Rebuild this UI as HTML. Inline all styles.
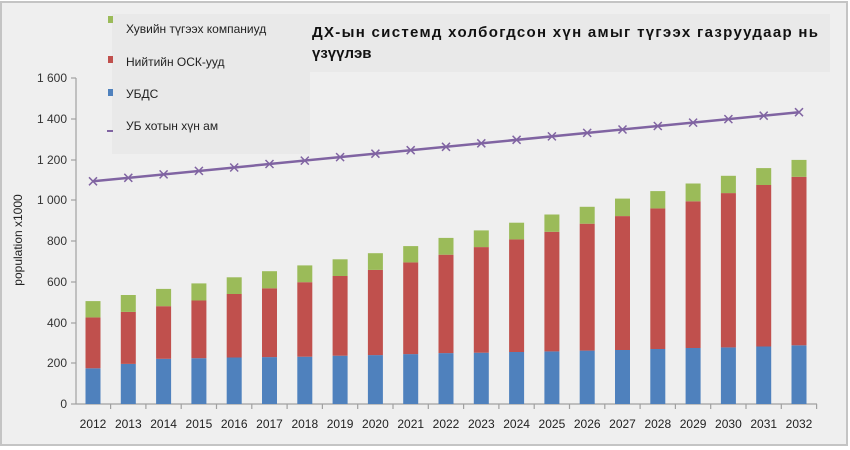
<!DOCTYPE html>
<html><head><meta charset="utf-8"><style>
html,body{margin:0;padding:0;background:#fff;}
svg{display:block;font-family:"Liberation Sans","DejaVu Sans",sans-serif;}
</style></head><body>
<svg width="850" height="450" viewBox="0 0 850 450" xmlns="http://www.w3.org/2000/svg">
<rect x="0" y="0" width="850" height="450" fill="#ffffff"/>
<rect x="1" y="2" width="846" height="443" fill="#efefef" stroke="#c4c4c4" stroke-width="2"/>
<rect x="112" y="14" width="198" height="140" fill="#e9e9e9"/>
<rect x="310" y="14" width="520" height="58" fill="#e9e9e9"/>
<defs><path id="mk" d="M-4,-4L4,4M-4,4L4,-4" stroke="#8064a2" stroke-width="1.5"/></defs>
<!-- axes -->
<g stroke="#a0a0a0" stroke-width="1.2">
<line x1="76" y1="78" x2="76" y2="404"/>
<line x1="76" y1="404" x2="817" y2="404"/>
<line x1="71" y1="78" x2="76" y2="78"/><line x1="71" y1="119" x2="76" y2="119"/><line x1="71" y1="160" x2="76" y2="160"/><line x1="71" y1="200" x2="76" y2="200"/><line x1="71" y1="241" x2="76" y2="241"/><line x1="71" y1="282" x2="76" y2="282"/><line x1="71" y1="323" x2="76" y2="323"/><line x1="71" y1="363" x2="76" y2="363"/><line x1="71" y1="404" x2="76" y2="404"/>
</g>
<g fill="#333" font-size="12" text-anchor="end">
<text x="67" y="82">1 600</text><text x="67" y="123">1 400</text><text x="67" y="164">1 200</text><text x="67" y="204">1 000</text><text x="67" y="245">800</text><text x="67" y="286">600</text><text x="67" y="327">400</text><text x="67" y="367">200</text><text x="67" y="408">0</text>
</g>
<text transform="translate(22,240) rotate(-90)" font-size="12" fill="#222" text-anchor="middle">population x1000</text>
<!-- bars -->
<g>
<rect x="85.5" y="368.3" width="15" height="35.7" fill="#4f81bd"/><rect x="85.5" y="317.4" width="15" height="50.9" fill="#c0504d"/><rect x="85.5" y="301.1" width="15" height="16.3" fill="#9bbb59"/>
<rect x="120.8" y="363.9" width="15" height="40.1" fill="#4f81bd"/><rect x="120.8" y="311.9" width="15" height="52" fill="#c0504d"/><rect x="120.8" y="295" width="15" height="16.9" fill="#9bbb59"/>
<rect x="156.1" y="358.8" width="15" height="45.2" fill="#4f81bd"/><rect x="156.1" y="306.2" width="15" height="52.6" fill="#c0504d"/><rect x="156.1" y="288.9" width="15" height="17.3" fill="#9bbb59"/>
<rect x="191.4" y="358.2" width="15" height="45.8" fill="#4f81bd"/><rect x="191.4" y="300.5" width="15" height="57.7" fill="#c0504d"/><rect x="191.4" y="283.4" width="15" height="17.1" fill="#9bbb59"/>
<rect x="226.7" y="357.5" width="15" height="46.5" fill="#4f81bd"/><rect x="226.7" y="294" width="15" height="63.5" fill="#c0504d"/><rect x="226.7" y="277.3" width="15" height="16.7" fill="#9bbb59"/>
<rect x="262" y="357.1" width="15" height="46.9" fill="#4f81bd"/><rect x="262" y="288.3" width="15" height="68.8" fill="#c0504d"/><rect x="262" y="271.2" width="15" height="17.1" fill="#9bbb59"/>
<rect x="297.3" y="356.7" width="15" height="47.3" fill="#4f81bd"/><rect x="297.3" y="282.2" width="15" height="74.5" fill="#c0504d"/><rect x="297.3" y="265.4" width="15" height="16.8" fill="#9bbb59"/>
<rect x="332.6" y="355.7" width="15" height="48.3" fill="#4f81bd"/><rect x="332.6" y="276" width="15" height="79.7" fill="#c0504d"/><rect x="332.6" y="259.3" width="15" height="16.7" fill="#9bbb59"/>
<rect x="367.9" y="355.1" width="15" height="48.9" fill="#4f81bd"/><rect x="367.9" y="269.9" width="15" height="85.2" fill="#c0504d"/><rect x="367.9" y="253.2" width="15" height="16.7" fill="#9bbb59"/>
<rect x="403.2" y="354.1" width="15" height="49.9" fill="#4f81bd"/><rect x="403.2" y="262.4" width="15" height="91.7" fill="#c0504d"/><rect x="403.2" y="246.1" width="15" height="16.3" fill="#9bbb59"/>
<rect x="438.5" y="353.1" width="15" height="50.9" fill="#4f81bd"/><rect x="438.5" y="254.7" width="15" height="98.4" fill="#c0504d"/><rect x="438.5" y="237.9" width="15" height="16.8" fill="#9bbb59"/>
<rect x="473.8" y="352.7" width="15" height="51.3" fill="#4f81bd"/><rect x="473.8" y="247.1" width="15" height="105.6" fill="#c0504d"/><rect x="473.8" y="230.4" width="15" height="16.7" fill="#9bbb59"/>
<rect x="509.1" y="352" width="15" height="52" fill="#4f81bd"/><rect x="509.1" y="239.4" width="15" height="112.6" fill="#c0504d"/><rect x="509.1" y="222.7" width="15" height="16.7" fill="#9bbb59"/>
<rect x="544.4" y="351.4" width="15" height="52.6" fill="#4f81bd"/><rect x="544.4" y="231.8" width="15" height="119.6" fill="#c0504d"/><rect x="544.4" y="214.5" width="15" height="17.3" fill="#9bbb59"/>
<rect x="579.7" y="350.6" width="15" height="53.4" fill="#4f81bd"/><rect x="579.7" y="223.7" width="15" height="126.9" fill="#c0504d"/><rect x="579.7" y="206.8" width="15" height="16.9" fill="#9bbb59"/>
<rect x="615" y="350" width="15" height="54" fill="#4f81bd"/><rect x="615" y="216.1" width="15" height="133.9" fill="#c0504d"/><rect x="615" y="198.6" width="15" height="17.5" fill="#9bbb59"/>
<rect x="650.3" y="349" width="15" height="55" fill="#4f81bd"/><rect x="650.3" y="208.4" width="15" height="140.6" fill="#c0504d"/><rect x="650.3" y="191.1" width="15" height="17.3" fill="#9bbb59"/>
<rect x="685.6" y="348" width="15" height="56" fill="#4f81bd"/><rect x="685.6" y="201.3" width="15" height="146.7" fill="#c0504d"/><rect x="685.6" y="183.5" width="15" height="17.8" fill="#9bbb59"/>
<rect x="720.9" y="347.4" width="15" height="56.6" fill="#4f81bd"/><rect x="720.9" y="193.1" width="15" height="154.3" fill="#c0504d"/><rect x="720.9" y="175.8" width="15" height="17.3" fill="#9bbb59"/>
<rect x="756.2" y="346.5" width="15" height="57.5" fill="#4f81bd"/><rect x="756.2" y="185" width="15" height="161.5" fill="#c0504d"/><rect x="756.2" y="168.1" width="15" height="16.9" fill="#9bbb59"/>
<rect x="791.5" y="345.3" width="15" height="58.7" fill="#4f81bd"/><rect x="791.5" y="176.8" width="15" height="168.5" fill="#c0504d"/><rect x="791.5" y="159.9" width="15" height="16.9" fill="#9bbb59"/>
</g>
<!-- x ticks -->
<g stroke="#a0a0a0" stroke-width="1.2">
<line x1="110.6" y1="404" x2="110.6" y2="409"/><line x1="145.9" y1="404" x2="145.9" y2="409"/><line x1="181.2" y1="404" x2="181.2" y2="409"/><line x1="216.5" y1="404" x2="216.5" y2="409"/><line x1="251.8" y1="404" x2="251.8" y2="409"/><line x1="287.1" y1="404" x2="287.1" y2="409"/><line x1="322.4" y1="404" x2="322.4" y2="409"/><line x1="357.7" y1="404" x2="357.7" y2="409"/><line x1="393" y1="404" x2="393" y2="409"/><line x1="428.3" y1="404" x2="428.3" y2="409"/><line x1="463.6" y1="404" x2="463.6" y2="409"/><line x1="498.9" y1="404" x2="498.9" y2="409"/><line x1="534.2" y1="404" x2="534.2" y2="409"/><line x1="569.5" y1="404" x2="569.5" y2="409"/><line x1="604.8" y1="404" x2="604.8" y2="409"/><line x1="640.1" y1="404" x2="640.1" y2="409"/><line x1="675.4" y1="404" x2="675.4" y2="409"/><line x1="710.7" y1="404" x2="710.7" y2="409"/><line x1="746" y1="404" x2="746" y2="409"/><line x1="781.3" y1="404" x2="781.3" y2="409"/><line x1="816.6" y1="404" x2="816.6" y2="409"/>
</g>
<g fill="#222" font-size="12" text-anchor="middle">
<text x="93" y="428">2012</text><text x="128.3" y="428">2013</text><text x="163.6" y="428">2014</text><text x="198.9" y="428">2015</text><text x="234.2" y="428">2016</text><text x="269.5" y="428">2017</text><text x="304.8" y="428">2018</text><text x="340.1" y="428">2019</text><text x="375.4" y="428">2020</text><text x="410.7" y="428">2021</text><text x="446" y="428">2022</text><text x="481.3" y="428">2023</text><text x="516.6" y="428">2024</text><text x="551.9" y="428">2025</text><text x="587.2" y="428">2026</text><text x="622.5" y="428">2027</text><text x="657.8" y="428">2028</text><text x="693.1" y="428">2029</text><text x="728.4" y="428">2030</text><text x="763.7" y="428">2031</text><text x="799" y="428">2032</text>
</g>
<!-- line -->
<line x1="93" y1="181.3" x2="799" y2="112.2" stroke="#8064a2" stroke-width="2.5"/>
<g>
<use href="#mk" x="93" y="181.3"/><use href="#mk" x="128.3" y="177.8"/><use href="#mk" x="163.6" y="174.4"/><use href="#mk" x="198.9" y="170.9"/><use href="#mk" x="234.2" y="167.5"/><use href="#mk" x="269.5" y="164"/><use href="#mk" x="304.8" y="160.6"/><use href="#mk" x="340.1" y="157.1"/><use href="#mk" x="375.4" y="153.7"/><use href="#mk" x="410.7" y="150.2"/><use href="#mk" x="446" y="146.8"/><use href="#mk" x="481.3" y="143.3"/><use href="#mk" x="516.6" y="139.8"/><use href="#mk" x="551.9" y="136.4"/><use href="#mk" x="587.2" y="132.9"/><use href="#mk" x="622.5" y="129.5"/><use href="#mk" x="657.8" y="126"/><use href="#mk" x="693.1" y="122.6"/><use href="#mk" x="728.4" y="119.1"/><use href="#mk" x="763.7" y="115.7"/><use href="#mk" x="799" y="112.2"/>
</g>
<!-- legend -->
<rect x="108" y="16" width="5" height="7" fill="#9bbb59"/>
<rect x="108" y="56" width="5" height="7" fill="#c0504d"/>
<rect x="108" y="89" width="5" height="7" fill="#4f81bd"/>
<rect x="107" y="130" width="6" height="2" fill="#8064a2"/>
<g fill="#222" font-size="12">
<text x="126" y="33">Хувийн түгээх компаниуд</text>
<text x="126" y="66">Нийтийн ОСК-ууд</text>
<text x="126" y="98">УБДС</text>
<text x="126" y="130">УБ хотын хүн ам</text>
</g>
<g fill="#111" font-size="15" font-weight="bold">
<text x="312" y="37" textLength="506" lengthAdjust="spacing">ДХ-ын системд холбогдсон хүн амыг түгээх газруудаар нь</text>
<text x="312" y="58">үзүүлэв</text>
</g>
</svg>
</body></html>
